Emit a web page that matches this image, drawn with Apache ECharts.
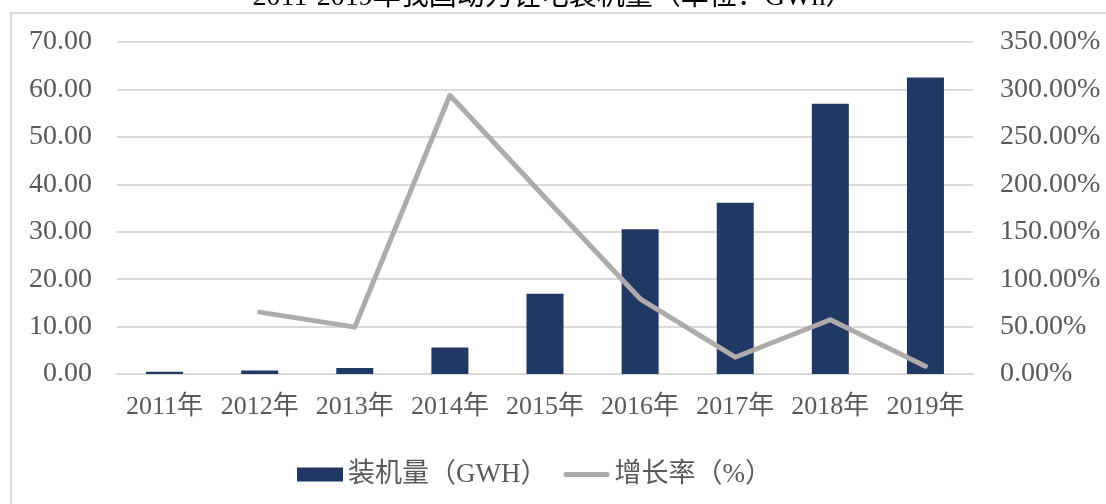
<!DOCTYPE html>
<html>
<head>
<meta charset="utf-8">
<script src="https://cdn.jsdelivr.net/npm/echarts@6/dist/echarts.min.js"></script>
<style>
  html, body { margin: 0; padding: 0; background: #fff; }
  #chart { width: 1106px; height: 504px; }
</style>
</head>
<body>
<div id="chart"></div>
<script>
// 年份
const years = ['2011年', '2012年', '2013年', '2014年', '2015年', '2016年', '2017年', '2018年', '2019年'];
// 装机量 (GWH)
const capacity = [0.45, 0.75, 1.25, 5.6, 16.9, 30.5, 36.1, 57.0, 62.5];
// 增长率 (%)
const growth = [null, 65.2, 49.4, 293.8, 186, 79.3, 17.7, 57.2, 8.2];

const FONT = "'Liberation Serif', 'Noto Sans CJK SC', serif";
const TEXT_COLOR = '#595959';
const LINE_COLOR = '#afabab';

const chart = echarts.init(document.getElementById('chart'));

const option = {
    animation: false,
    title: {
        text: '2011-2019年我国动力锂电装机量（单位：GWh）',
        left: 'center',
        top: -21,
        textStyle: { fontFamily: FONT, fontSize: 28, fontWeight: 'normal', color: '#000' }
    },
    graphic: [{
        type: 'rect',
        shape: { x: 11, y: 13, width: 1110, height: 500 },
        style: { fill: 'none', stroke: '#d9d9d9', lineWidth: 2 },
        z: -1
    }],
    grid: { left: 117, right: 133, top: 42, bottom: 130 },
    legend: {
        left: 292,
        top: 456,
        itemGap: 16,
        itemWidth: 46,
        itemHeight: 14,
        textStyle: { fontFamily: FONT, fontSize: 27, color: TEXT_COLOR },
        data: [
            { name: '装机量（GWH）', icon: 'rect' },
            { name: '增长率（%）', icon: 'path://M2.5,0H43.5A2.5,2.5,0,0,1,43.5,5H2.5A2.5,2.5,0,0,1,2.5,0Z' }
        ]
    },
    xAxis: {
        type: 'category',
        data: years,
        axisLine: { lineStyle: { color: '#d9d9d9', width: 2 } },
        axisTick: { show: false },
        axisLabel: { fontFamily: FONT, fontSize: 26, color: TEXT_COLOR, margin: 20, interval: 0 }
    },
    yAxis: [{
        type: 'value',
        min: 0,
        max: 70,
        interval: 10,
        axisLine: { show: false },
        axisTick: { show: false },
        splitLine: { lineStyle: { color: '#d9d9d9', width: 2 } },
        axisLabel: {
            fontFamily: FONT, fontSize: 28, color: TEXT_COLOR, margin: 25,
            formatter: v => v.toFixed(2)
        }
    }, {
        type: 'value',
        min: 0,
        max: 350,
        interval: 50,
        axisLine: { show: false },
        axisTick: { show: false },
        splitLine: { show: false },
        axisLabel: {
            fontFamily: FONT, fontSize: 28, color: TEXT_COLOR, margin: 27,
            formatter: v => v.toFixed(2) + '%'
        }
    }],
    series: [{
        name: '装机量（GWH）',
        type: 'bar',
        data: capacity,
        barWidth: 37,
        itemStyle: { color: '#203864' }
    }, {
        name: '增长率（%）',
        type: 'line',
        yAxisIndex: 1,
        data: growth,
        symbol: 'none',
        lineStyle: { color: LINE_COLOR, width: 5, cap: 'round', join: 'round' },
        itemStyle: { color: LINE_COLOR }
    }]
};

chart.setOption(option);
</script>
</body>
</html>
